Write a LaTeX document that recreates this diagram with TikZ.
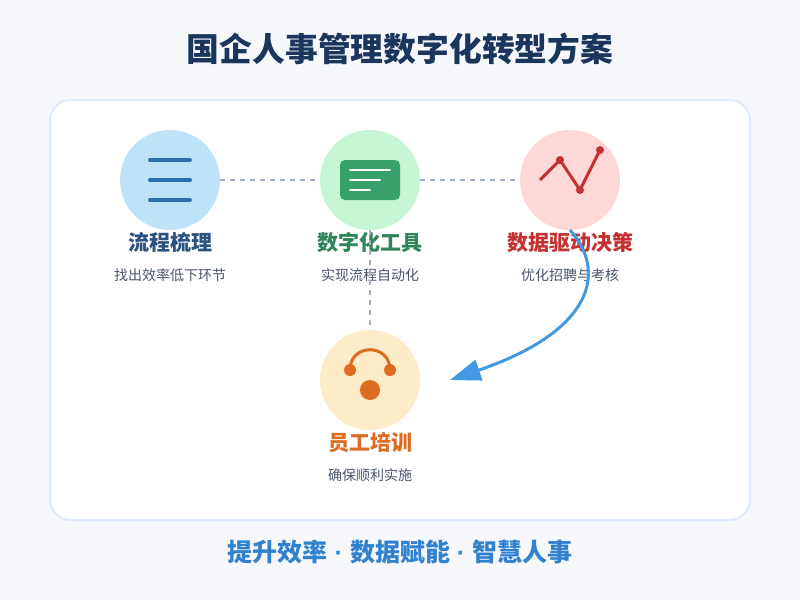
\documentclass[tikz,border=0pt]{standalone}
\usepackage{fontspec}
\setmainfont{Noto Sans CJK SC}
\newfontfamily\dotfont{Liberation Sans}
\usetikzlibrary{arrows.meta,positioning}

\definecolor{pagebg}{HTML}{F6F8FC}
\definecolor{cardline}{HTML}{DDE9FC}
\definecolor{titleblue}{HTML}{1A365D}
\definecolor{subgray}{HTML}{4A5568}
\definecolor{dashgray}{HTML}{A0AEC0}
\definecolor{flowblue}{HTML}{2B6CB0}
\definecolor{flowtext}{HTML}{2C5282}
\definecolor{flowfill}{HTML}{BEE3F8}
\definecolor{toolgreen}{HTML}{38A169}
\definecolor{tooltext}{HTML}{2F855A}
\definecolor{toolfill}{HTML}{C6F6D5}
\definecolor{datared}{HTML}{C53030}
\definecolor{datafill}{HTML}{FED7D7}
\definecolor{trainorange}{HTML}{DD6B20}
\definecolor{trainfill}{HTML}{FEEBC8}
\definecolor{curveblue}{HTML}{4299E1}
\definecolor{footblue}{HTML}{3182CE}

\begin{document}
\begin{tikzpicture}[
    x=0.75pt, y=-0.75pt,
    node distance=75pt,
    card/.style={rectangle, minimum width=525pt, minimum height=315pt, rounded corners=15pt, draw=cardline, line width=1.5pt, fill=white},
    bubble/.style={circle, minimum size=75pt, inner sep=0pt, outer sep=0pt},
    title/.style={font=\fontsize{24.6}{28}\selectfont\bfseries, text=titleblue, inner sep=0pt, anchor=base},
    heading/.style={font=\fontsize{15.75}{18}\selectfont\bfseries, inner sep=0pt},
    note/.style={font=\fontsize{10.5}{12}\selectfont, text=subgray, inner sep=0pt},
    footer/.style={font=\fontsize{18.75}{22}\selectfont\bfseries, text=footblue, inner sep=0pt, anchor=base},
    link/.style={draw=dashgray, line width=1.5pt, dash pattern=on 3.75pt off 3.75pt},
    arrow/.style={draw=curveblue, line width=2.25pt, -{Triangle[length=23pt,width=16pt]}},
    iconline/.style={line width=3pt, line cap=round}
]

% Page and card
\fill[pagebg] (0,0) rectangle (800,600);
\node[card] (card) at (400,310) {};

% Title
\node[title] (maintitle) at (400,61) {国企人事管理数字化转型方案};

% Step circles
\node[bubble, fill=flowfill] (flow) at (170,180) {};
\node[bubble, fill=toolfill, right=of flow] (tool) {};
\node[bubble, fill=datafill, right=of tool] (data) {};
\node[bubble, fill=trainfill, below=75pt of tool] (train) {};

% Step headings
\node[heading, text=flowtext, below=15pt of flow, anchor=base] (flowhead) {流程梳理};
\node[heading, text=tooltext, below=15pt of tool, anchor=base] (toolhead) {数字化工具};
\node[heading, text=datared, below=15pt of data, anchor=base] (datahead) {数据驱动决策};
\node[heading, text=trainorange, below=15pt of train, anchor=base] (trainhead) {员工培训};

% Step notes
\node[note, below=22.5pt of flowhead.base, anchor=base] (flownote) {找出效率低下环节};
\node[note, below=22.5pt of toolhead.base, anchor=base] (toolnote) {实现流程自动化};
\node[note, below=22.5pt of datahead.base, anchor=base] (datanote) {优化招聘与考核};
\node[note, below=22.5pt of trainhead.base, anchor=base] (trainnote) {确保顺利实施};

% Icon: list
\foreach \y in {160,180,200}
    \draw[iconline, flowblue] (150,\y) -- (190,\y);

% Icon: screen
\fill[toolgreen, rounded corners=3.75pt] (340,160) rectangle (400,200);
\draw[white, line width=1.5pt, line cap=round] (350,170) -- (390,170);
\draw[white, line width=1.5pt, line cap=round] (350,180) -- (380,180);
\draw[white, line width=1.5pt, line cap=round] (350,190) -- (370,190);

% Icon: chart
\draw[datared, line width=2.25pt] (540,180) -- (560,160) -- (580,190) -- (600,150);
\foreach \x/\y in {560/160,580/190,600/150}
    \fill[datared] (\x,\y) circle (3pt);

% Icon: headset
\draw[trainorange, line width=2.25pt] (350,370) .. controls (350,343) and (390,343) .. (390,370);
\fill[trainorange] (350,370) circle (4.5pt);
\fill[trainorange] (390,370) circle (4.5pt);
\fill[trainorange] (370,390) circle (7.5pt);

% Connectors
\coordinate (curveend) at (450,380);
\draw[link] (flow) -- (tool);
\draw[link] (tool) -- (data);
\draw[link] (tool) -- (train);
\draw[arrow] (data.south) .. controls (606,270) and (596,330) .. (curveend);

% Footer
\node[footer] (slogan) at (400,561) {提升效率{\dotfont\ ·\ }数据赋能{\dotfont\ ·\ }智慧人事};

\end{tikzpicture}
\end{document}
